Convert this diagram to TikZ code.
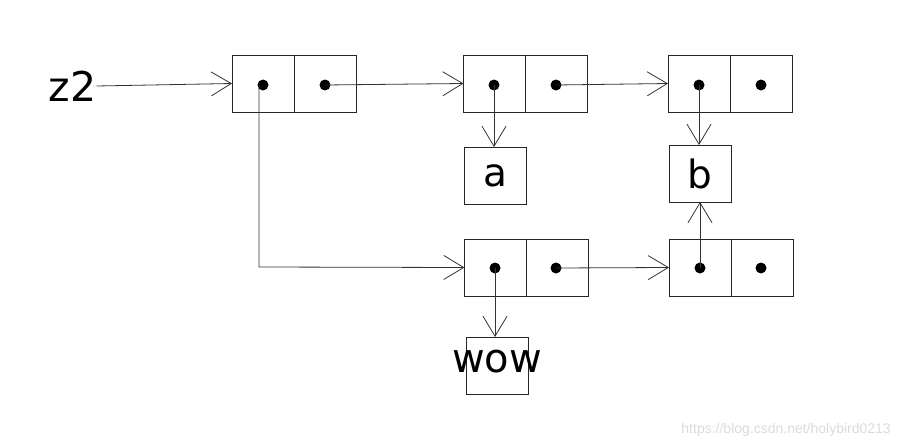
\documentclass[tikz,border=0pt]{standalone}
\usepackage{fontspec}
\setmainfont{DejaVu Sans}
\newfontfamily\wmfont{Liberation Sans}
\usetikzlibrary{arrows.meta}
\tikzset{
  cell/.style={draw=black!85, line width=0.9pt, minimum width=62pt, minimum height=57pt, inner sep=0pt, outer sep=0pt},
  valbox/.style={draw=black!85, line width=0.9pt, minimum width=62pt, minimum height=57pt, inner sep=0pt, outer sep=0pt, font=\fontsize{39}{39}\selectfont},
  ptr/.style={circle, fill=black, minimum size=11pt, inner sep=0pt},
  conn/.style={draw=black!80, line width=0.8pt, -{Straight Barb[length=20pt,width=24pt,line width=0.8pt]}},
}
\begin{document}
\begin{tikzpicture}[x=1pt,y=-1pt]
\useasboundingbox (0,0) rectangle (898,447);
% pair 1
\node[cell] (p1a) at (263,83.5) {};
\node[cell] (p1b) at (325,83.5) {};
% pair 2
\node[cell] (p2a) at (494.5,83.5) {};
\node[cell] (p2b) at (556.5,83.5) {};
% pair 3
\node[cell] (p3a) at (699,83.5) {};
\node[cell] (p3b) at (761,83.5) {};
% pair 4
\node[cell] (p4a) at (495.5,267.5) {};
\node[cell] (p4b) at (557.5,267.5) {};
% pair 5
\node[cell] (p5a) at (700,267.5) {};
\node[cell] (p5b) at (762,267.5) {};
% value boxes
\node[valbox] (a) at (495,175.5) {a};
\node[valbox] (b) at (700,173.5) {b};
\node[valbox] (w) at (497,365.5) {};
\node[font=\fontsize{40}{40}\selectfont] (wowt) at (497,362) {wow};
% label
\node[font=\fontsize{41}{41}\selectfont, inner sep=0pt] (z2) at (72.5,86) {z2};
% dots
\node[ptr] (d1a) at (263,85) {};
\node[ptr] (d1b) at (325,85) {};
\node[ptr] (d2a) at (494,85) {};
\node[ptr] (d2b) at (556,85) {};
\node[ptr] (d3a) at (699,85) {};
\node[ptr] (d3b) at (761,85) {};
\node[ptr] (d4a) at (495,268) {};
\node[ptr] (d4b) at (556,268) {};
\node[ptr] (d5a) at (700,268) {};
\node[ptr] (d5b) at (761,268) {};
\coordinate (bend) at (259,267);
% connectors
\draw[conn] (z2.east) -- (p1a.west);
\draw[conn] (d1b.center) -- (p2a.west);
\draw[conn] (d2b.center) -- (p3a.west);
\draw[conn] (d1a.center -| bend) -- (bend) -- (p4a.west);
\draw[conn] (d2a.center) -- (a.north -| d2a.center);
\draw[conn] (d3a.center) -- (b.north -| d3a.center);
\draw[conn] (d4a.center) -- (w.north -| d4a.center);
\draw[conn] (d4b.center) -- (p5a.west);
\draw[conn] (d5a.center) -- (b.south -| d5a.center);
% watermark
\node[anchor=east, text=black!14, font=\wmfont\fontsize{14}{14}\selectfont, inner sep=0pt] (wm) at (891,430) {https://blog.csdn.net/holybird0213};
\end{tikzpicture}
\end{document}
